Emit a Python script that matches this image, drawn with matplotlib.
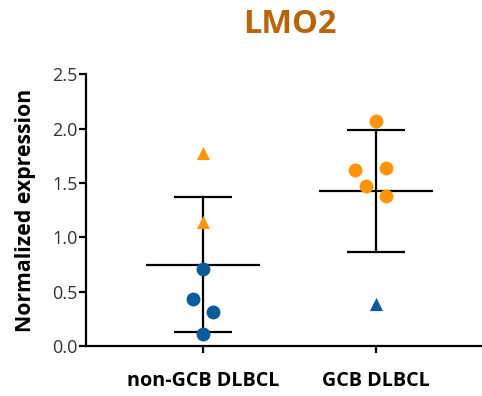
import numpy as np
import matplotlib
matplotlib.use("Agg")
import matplotlib.pyplot as plt

plt.rcParams['font.family'] = ['Open Sans', 'DejaVu Sans']

# Categories and per-sample values
groups = ["non-GCB DLBCL", "GCB DLBCL"]
non_gcb_circles = [0.71, 0.43, 0.31, 0.11]
non_gcb_triangles = [1.78, 1.14]
gcb_circles = [2.07, 1.62, 1.64, 1.47, 1.38]
gcb_triangles = [0.39]

# Horizontal spread of points within each group
non_gcb_circle_dx = [0.0, -0.06, 0.06, 0.0]
non_gcb_triangle_dx = [0.0, 0.0]
gcb_circle_dx = [0.0, -0.12, 0.06, -0.06, 0.06]
gcb_triangle_dx = [0.0]

orange = "#FF9408"
blue = "#0B5A9A"

fig = plt.figure(figsize=(4.82, 3.96), dpi=100)
ax = fig.add_axes([0.1784, 0.1263, 0.8196, 0.6861])

def draw_group(pos, circles, cdx, c_color, tris, tdx, t_color):
    ax.scatter(np.array(cdx) + pos, circles, s=100, marker='o', color=c_color,
               zorder=3, linewidths=0)
    ax.scatter(np.array(tdx) + pos, tris, s=90, marker='^', color=t_color,
               zorder=3, linewidths=0)
    vals = np.array(list(circles) + list(tris))
    m = vals.mean()
    sd = vals.std(ddof=1)
    ax.plot([pos - 0.33, pos + 0.33], [m, m], color='black', lw=1.6, zorder=2,
            solid_capstyle='butt')
    ax.plot([pos, pos], [m - sd, m + sd], color='black', lw=1.6, zorder=2)
    for y in (m - sd, m + sd):
        ax.plot([pos - 0.17, pos + 0.17], [y, y], color='black', lw=1.6,
                zorder=2, solid_capstyle='butt')

draw_group(0, non_gcb_circles, non_gcb_circle_dx, blue,
           non_gcb_triangles, non_gcb_triangle_dx, orange)
draw_group(1, gcb_circles, gcb_circle_dx, orange,
           gcb_triangles, gcb_triangle_dx, blue)

ax.set_xlim(-0.676, 1.607)
ax.set_ylim(0, 2.5)
ax.set_yticks([0, 0.5, 1.0, 1.5, 2.0, 2.5])
ax.set_yticklabels(["0.0", "0.5", "1.0", "1.5", "2.0", "2.5"])
ax.set_xticks([0, 1])
ax.set_xticklabels(groups, fontsize=14.2, fontweight='bold')

for s in ("top", "right"):
    ax.spines[s].set_visible(False)
for s in ("left", "bottom"):
    ax.spines[s].set_linewidth(1.6)

ax.tick_params(axis='y', labelsize=13, length=5, width=1.6, pad=1,
               labelcolor='#333333')
ax.tick_params(axis='x', length=5, width=1.6, pad=13)

ax.set_ylabel("Normalized expression", fontsize=15.3, fontweight='bold', labelpad=12)
fig.text(0.602, 0.939, "LMO2", ha='center', va='center', fontsize=23.5,
         fontweight='bold', color='#B8650A')

fig.savefig("out.png", dpi=100)
